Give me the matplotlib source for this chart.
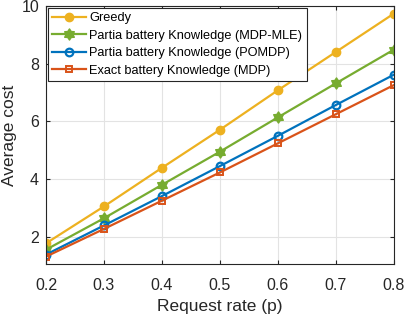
import numpy as np
import matplotlib.pyplot as plt
from matplotlib.path import Path

plt.rcParams['font.family'] = ['Liberation Sans', 'DejaVu Sans']

# request rate
p = [0.2, 0.3, 0.4, 0.5, 0.6, 0.7, 0.8]

# average cost for each policy
greedy = [1.77, 3.05, 4.39, 5.71, 7.08, 8.41, 9.74]
mdp_mle = [1.55, 2.64, 3.80, 4.95, 6.14, 7.32, 8.49]
pomdp = [1.38, 2.39, 3.41, 4.45, 5.50, 6.57, 7.62]
mdp = [1.31, 2.27, 3.25, 4.23, 5.24, 6.25, 7.26]

labels = ['Greedy',
          'Partia battery Knowledge (MDP-MLE)',
          'Partia battery Knowledge (POMDP)',
          'Exact battery Knowledge (MDP)']

fig = plt.figure(figsize=(4.07, 3.17), dpi=100)
ax = fig.add_axes([0.113, 0.166, 0.855, 0.815])

# six point star, like matlab hexagram
ang = np.arange(12) * np.pi / 6 + np.pi / 2
rad = np.where(np.arange(12) % 2 == 0, 1.0, 0.62)
hexa = Path(np.column_stack([rad * np.cos(ang), rad * np.sin(ang)]).tolist() + [[0, 1]],
            closed=True)

ax.plot(p, greedy, '-o', color='#EDB120', mfc='#EDB120', ms=6, lw=1.6, label=labels[0])
ax.plot(p, mdp_mle, '-', marker=hexa, color='#77AC30', mfc='#77AC30', ms=8, lw=1.6, label=labels[1])
ax.plot(p, pomdp, '-o', color='#0072BD', mfc='none', ms=5.5, mew=1.6, lw=1.6, label=labels[2])
ax.plot(p, mdp, '-s', color='#D95319', mfc='none', ms=5, mew=1.4, lw=1.6, label=labels[3])

ax.set_xlim(0.2, 0.8)
ax.set_ylim(1.04, 10)
ax.set_xticks(p)
ax.set_xticklabels(['0.2', '0.3', '0.4', '0.5', '0.6', '0.7', '0.8'])
ax.set_yticks([2, 4, 6, 8, 10])
ax.grid(True, color='#e3e3e3', lw=0.8)
ax.set_axisbelow(True)
for s in ax.spines.values():
    s.set_color('#262626')
    s.set_linewidth(0.8)
ax.tick_params(direction='in', length=3, labelsize=11.5, colors='#262626', top=True, right=True,
               labeltop=False, labelright=False)
ax.tick_params(axis='x', pad=10)
ax.tick_params(axis='y', pad=5)
ax.set_xlabel('Request rate (p)', fontsize=12.5, color='#262626', labelpad=4)
ax.set_ylabel('Average cost', fontsize=12.5, color='#262626', labelpad=3)

leg = ax.legend(loc='upper left', fontsize=9.2, fancybox=False, framealpha=1,
                edgecolor='#262626', borderpad=0.35, labelspacing=0.42, handlelength=2.6,
                handletextpad=0.3, borderaxespad=0.15)
leg.get_frame().set_linewidth(0.8)

fig.savefig('out.png', dpi=100)
